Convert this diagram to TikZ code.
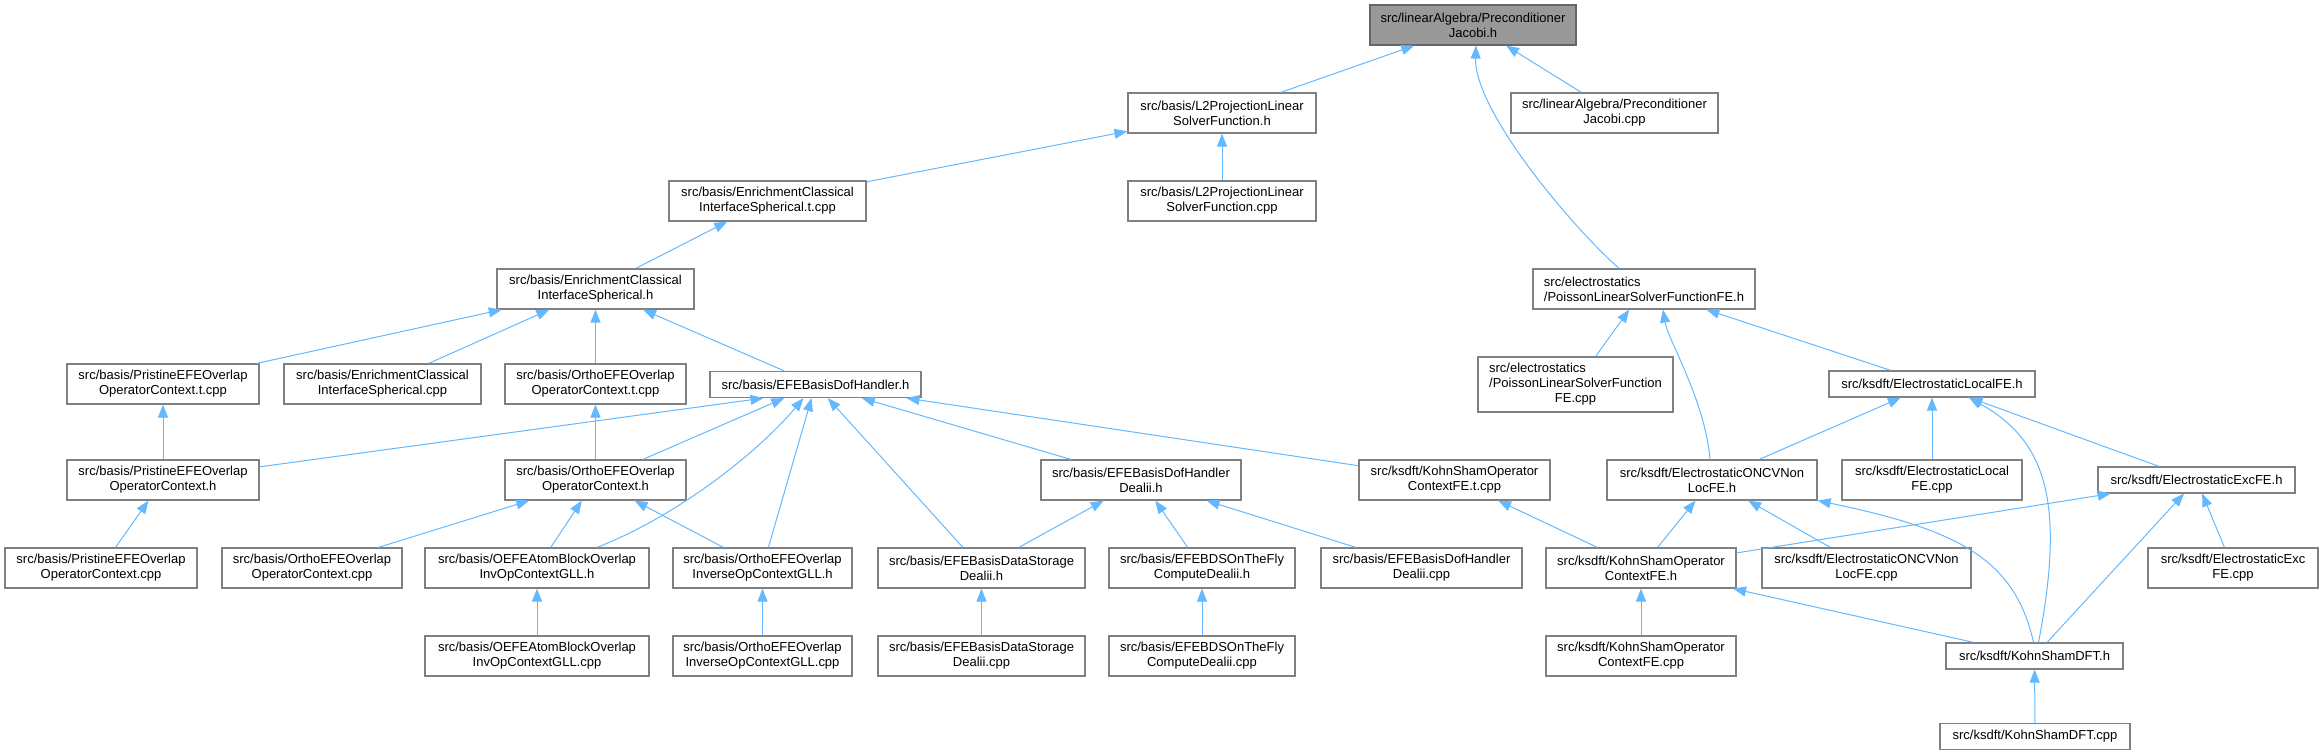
\documentclass[tikz,border=0pt]{standalone}
\usepackage{fontspec}
\setmainfont{Liberation Sans}
\usepackage{tikz}
\usetikzlibrary{arrows.meta}
\usepackage{xcolor}
\definecolor{edgeblue}{RGB}{99,184,255}
\definecolor{boxline}{RGB}{128,128,128}
\definecolor{rootfill}{RGB}{153,153,153}
\definecolor{rootline}{RGB}{102,102,102}

\begin{document}
\begin{tikzpicture}[x=1pt, y=-1pt,
  file/.style={draw=boxline, fill=white, line width=1.2pt, inner sep=0pt, align=center,
    font=\fontsize{13}{15}\selectfont, minimum height=40},
  flat/.style={minimum height=26},
  dep/.style={edgeblue, line width=1pt, -{Triangle[length=13pt, width=10pt]}}]
  \useasboundingbox (0,0) rectangle (2324,755);
  % files
  \node[file, fill=rootfill, draw=rootline, minimum width=206] (root) at (1473,25) {src/linearAlgebra/Preconditioner\\Jacobi.h};
  \node[file, minimum width=188] (l2h) at (1222,113) {src/basis/L2ProjectionLinear\\SolverFunction.h};
  \node[file, minimum width=207] (pjcpp) at (1614.5,113) {src/linearAlgebra/Preconditioner\\Jacobi.cpp};
  \node[file, minimum width=197] (enrtcpp) at (767.5,201) {src/basis/EnrichmentClassical\\InterfaceSpherical.t.cpp};
  \node[file, minimum width=188] (l2cpp) at (1222,201) {src/basis/L2ProjectionLinear\\SolverFunction.cpp};
  \node[file, minimum width=197] (enrh) at (595.5,289) {src/basis/EnrichmentClassical\\InterfaceSpherical.h};
  \node[file, minimum width=222, align=left] (poih) at (1644,289) {src/electrostatics\\/PoissonLinearSolverFunctionFE.h};
  \node[file, minimum width=192] (pritcpp) at (163,384) {src/basis/PristineEFEOverlap\\OperatorContext.t.cpp};
  \node[file, minimum width=197] (enrcpp) at (382.5,384) {src/basis/EnrichmentClassical\\InterfaceSpherical.cpp};
  \node[file, minimum width=181] (orttcpp) at (595.5,384) {src/basis/OrthoEFEOverlap\\OperatorContext.t.cpp};
  \node[file, flat, minimum width=211] (dofh) at (815.5,384.5) {src/basis/EFEBasisDofHandler.h};
  \node[file, minimum width=195, minimum height=55] (poicpp) at (1575.5,384.5)
    {\begin{tabular}{@{}l@{}}src/electrostatics\\/PoissonLinearSolverFunction\\\multicolumn{1}{@{}c@{}}{FE.cpp}\end{tabular}};
  \node[file, flat, minimum width=206] (elloch) at (1932,384) {src/ksdft/ElectrostaticLocalFE.h};
  \node[file, minimum width=192] (prih) at (163,480) {src/basis/PristineEFEOverlap\\OperatorContext.h};
  \node[file, minimum width=181] (orth) at (595.5,480) {src/basis/OrthoEFEOverlap\\OperatorContext.h};
  \node[file, minimum width=200] (dofdh) at (1141,480) {src/basis/EFEBasisDofHandler\\Dealii.h};
  \node[file, minimum width=191] (kstcpp) at (1454.5,480) {src/ksdft/KohnShamOperator\\ContextFE.t.cpp};
  \node[file, minimum width=210] (oncvh) at (1712,480) {src/ksdft/ElectrostaticONCVNon\\LocFE.h};
  \node[file, minimum width=180] (elloccpp) at (1932,480) {src/ksdft/ElectrostaticLocal\\FE.cpp};
  \node[file, flat, minimum width=197] (exch) at (2196.5,480) {src/ksdft/ElectrostaticExcFE.h};
  \node[file, minimum width=192] (pricpp) at (101,568) {src/basis/PristineEFEOverlap\\OperatorContext.cpp};
  \node[file, minimum width=180] (ortcpp) at (312,568) {src/basis/OrthoEFEOverlap\\OperatorContext.cpp};
  \node[file, minimum width=224] (oefeh) at (537,568) {src/basis/OEFEAtomBlockOverlap\\InvOpContextGLL.h};
  \node[file, minimum width=179] (oinvh) at (762.5,568) {src/basis/OrthoEFEOverlap\\InverseOpContextGLL.h};
  \node[file, minimum width=207] (dsh) at (981.5,568) {src/basis/EFEBasisDataStorage\\Dealii.h};
  \node[file, minimum width=186] (bdsh) at (1202,568) {src/basis/EFEBDSOnTheFly\\ComputeDealii.h};
  \node[file, minimum width=201] (dofdcpp) at (1421.5,568) {src/basis/EFEBasisDofHandler\\Dealii.cpp};
  \node[file, minimum width=190] (ksh) at (1641,568) {src/ksdft/KohnShamOperator\\ContextFE.h};
  \node[file, minimum width=209] (oncvcpp) at (1866.5,568) {src/ksdft/ElectrostaticONCVNon\\LocFE.cpp};
  \node[file, minimum width=170] (exccpp) at (2233,568) {src/ksdft/ElectrostaticExc\\FE.cpp};
  \node[file, minimum width=224] (oefecpp) at (537,656) {src/basis/OEFEAtomBlockOverlap\\InvOpContextGLL.cpp};
  \node[file, minimum width=179] (oinvcpp) at (762.5,656) {src/basis/OrthoEFEOverlap\\InverseOpContextGLL.cpp};
  \node[file, minimum width=207] (dscpp) at (981.5,656) {src/basis/EFEBasisDataStorage\\Dealii.cpp};
  \node[file, minimum width=186] (bdscpp) at (1202,656) {src/basis/EFEBDSOnTheFly\\ComputeDealii.cpp};
  \node[file, minimum width=190] (kscpp) at (1641,656) {src/ksdft/KohnShamOperator\\ContextFE.cpp};
  \node[file, flat, minimum width=177] (ksdfth) at (2034.5,656) {src/ksdft/KohnShamDFT.h};
  \node[file, flat, minimum width=190] (ksdftcpp) at (2035,736.5) {src/ksdft/KohnShamDFT.cpp};
  % includes
  \draw[dep] (l2h) -- (root);
  \draw[dep] (pjcpp) -- (root);
  \draw[dep] ([xshift=-25]poih.north) .. controls (1570,225) and (1474,110) .. ([xshift=3]root.south);
  \draw[dep] (l2cpp) -- (l2h);
  \draw[dep] (enrtcpp) -- (l2h);
  \draw[dep] (enrh) -- (enrtcpp);
  \draw[dep] (pritcpp) -- (enrh);
  \draw[dep] (enrcpp) -- (enrh);
  \draw[dep] (orttcpp) -- (enrh);
  \draw[dep] (dofh) -- (enrh);
  \draw[dep] (poicpp) -- (poih);
  \draw[dep] ([xshift=-2]oncvh.north) .. controls (1705,400) and (1668,340) .. ([xshift=19]poih.south);
  \draw[dep] (elloch) -- (poih);
  \draw[dep] (prih) -- (pritcpp);
  \draw[dep] (orth) -- (orttcpp);
  \draw[dep] (prih) -- ([xshift=-52]dofh.south);
  \draw[dep] (orth) -- (dofh);
  \draw[dep] ([xshift=60]oefeh.north) .. controls (680,515) and (760,450) .. ([xshift=-12]dofh.south);
  \draw[dep] (oinvh) -- (dofh);
  \draw[dep] (dsh) -- (dofh);
  \draw[dep] (dofdh) -- (dofh);
  \draw[dep] (kstcpp) -- (dofh);
  \draw[dep] (pricpp) -- (prih);
  \draw[dep] (ortcpp) -- (orth);
  \draw[dep] (oefeh) -- (orth);
  \draw[dep] (oinvh) -- (orth);
  \draw[dep] (oefecpp) -- (oefeh);
  \draw[dep] (oinvcpp) -- (oinvh);
  \draw[dep] (dscpp) -- (dsh);
  \draw[dep] (dsh) -- (dofdh);
  \draw[dep] (bdsh) -- (dofdh);
  \draw[dep] (dofdcpp) -- (dofdh);
  \draw[dep] (bdscpp) -- (bdsh);
  \draw[dep] (ksh) -- (kstcpp);
  \draw[dep] (ksh) -- (oncvh);
  \draw[dep] (ksh) -- (exch);
  \draw[dep] (kscpp) -- (ksh);
  \draw[dep] (oncvh) -- (elloch);
  \draw[dep] (elloccpp) -- (elloch);
  \draw[dep] (exch) -- (elloch);
  \draw[dep] ([xshift=4]ksdfth.north) .. controls (2066,500) and (2045,440) .. ([xshift=37]elloch.south);
  \draw[dep] (oncvcpp) -- (oncvh);
  \draw[dep] ([xshift=-1]ksdfth.north) .. controls (2015,560) and (1960,530) .. (oncvh.south east);
  \draw[dep] (ksdfth) -- (ksh);
  \draw[dep] (ksdfth) -- (exch);
  \draw[dep] (exccpp) -- (exch);
  \draw[dep] (ksdftcpp) -- (ksdfth);
\end{tikzpicture}
\end{document}
